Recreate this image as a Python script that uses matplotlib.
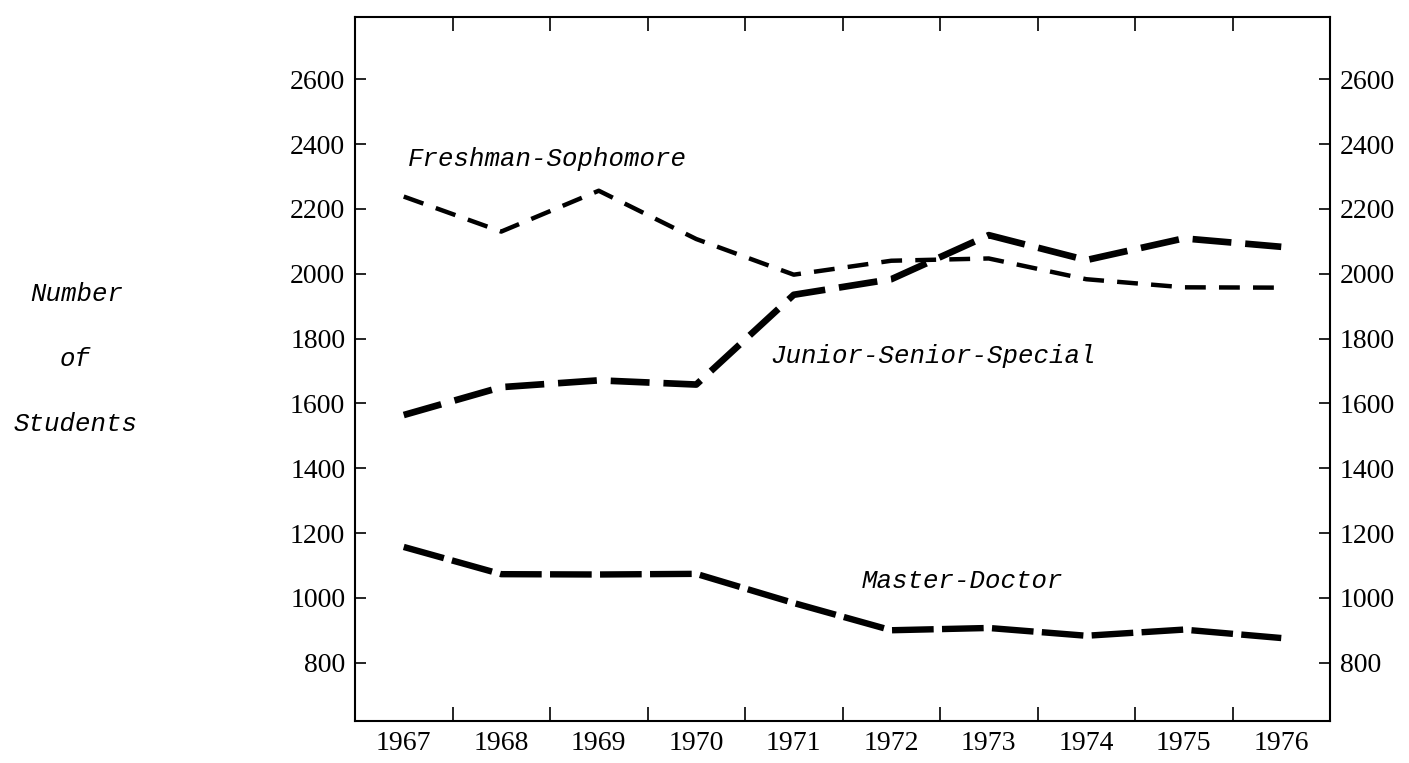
import matplotlib
matplotlib.use("Agg")
import matplotlib.pyplot as plt

# ---- data ----
years = [1967, 1968, 1969, 1970, 1971, 1972, 1973, 1974, 1975, 1976]
freshman_sophomore = [2238, 2130, 2256, 2107, 1997, 2040, 2047, 1983, 1958, 1957]
junior_senior_special = [1564, 1650, 1671, 1658, 1935, 1983, 2119, 2042, 2109, 2083]
master_doctor = [1157, 1073, 1072, 1074, 984, 900, 907, 883, 902, 876]
y_ticks = [800, 1000, 1200, 1400, 1600, 1800, 2000, 2200, 2400, 2600]
series_labels = ["Freshman-Sophomore", "Junior-Senior-Special", "Master-Doctor"]
axis_label_lines = ["Number", "of", "Students"]

plt.rcParams["lines.scale_dashes"] = False
W, H = 1409, 763
fig = plt.figure(figsize=(W / 100, H / 100), dpi=100)
fig.patch.set_facecolor("white")

L, R, T, B = 355, 1330, 17, 721
ax = fig.add_axes([L / W, 1 - B / H, (R - L) / W, (B - T) / H])

ax.plot(years, freshman_sophomore, color="black", lw=3.2,
        linestyle=(0, (15, 9.5)), dash_capstyle="butt")
ax.plot(years, junior_senior_special, color="black", lw=4.8,
        linestyle=(0, (28, 10)), dash_capstyle="butt")
ax.plot(years, master_doctor, color="black", lw=4.6,
        linestyle=(0, (30, 6)), dash_capstyle="butt")

ax.set_xlim(1966.5, 1976.5)
ax.set_ylim(620, 2792)

tick_font = {"family": "Liberation Serif", "size": 20}
ax.set_yticks(y_ticks)
ax.set_yticklabels([str(v) for v in y_ticks], fontdict=tick_font)
ax.set_xticks(years)
ax.set_xticklabels([str(y) for y in years], fontdict=tick_font)
ax.set_xticks([y + 0.5 for y in years[:-1]], minor=True)

ax.tick_params(axis="y", which="major", direction="in", length=8, width=1.2,
               left=True, right=True, labelleft=True, labelright=True, pad=6)
ax.tick_params(axis="x", which="major", length=0, pad=7, labelbottom=True)
ax.tick_params(axis="x", which="minor", direction="in", length=10, width=1.2,
               top=True, bottom=True)
for lab in ax.get_yticklabels(which="major"):
    pass
ax.yaxis.set_tick_params(which="major", pad=7)
for s in ax.spines.values():
    s.set_linewidth(1.5)

lab_font = dict(family="Liberation Mono", style="italic", size=18.5, color="black")

def px(x, y):
    return x / W, 1 - y / H

fig.text(*px(408, 166), series_labels[0], ha="left", va="baseline", **lab_font)
fig.text(*px(770, 363), series_labels[1], ha="left", va="baseline", **lab_font)
fig.text(*px(862, 588), series_labels[2], ha="left", va="baseline", **lab_font)

fig.text(*px(30, 301), axis_label_lines[0], ha="left", va="baseline", **lab_font)
fig.text(*px(60, 366), axis_label_lines[1], ha="left", va="baseline", **lab_font)
fig.text(*px(13, 431), axis_label_lines[2], ha="left", va="baseline", **lab_font)

fig.savefig("out.png", dpi=100, facecolor="white")
